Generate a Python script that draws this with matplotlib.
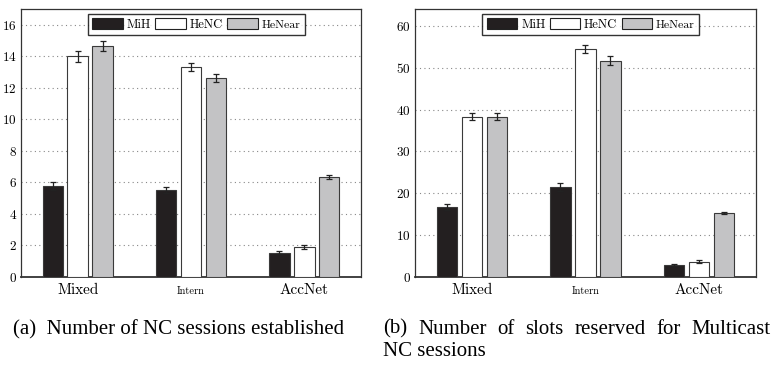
import matplotlib
matplotlib.use("Agg")
import matplotlib.pyplot as plt
import numpy as np

plt.rcParams['axes.formatter.use_mathtext'] = True

categorias = ["Mixed", "Intern", "AccNet"]
series = ["MiH", "HeNC", "HeNear"]

# (a) sessoes NC estabelecidas
sessoes_mih = [5.75, 5.5, 1.55]
sessoes_henc = [14.0, 13.3, 1.9]
sessoes_henear = [14.65, 12.6, 6.35]
sessoes_err_mih = [0.25, 0.2, 0.1]
sessoes_err_henc = [0.35, 0.25, 0.15]
sessoes_err_henear = [0.3, 0.25, 0.12]

# (b) slots reservados
slots_mih = [16.8, 21.5, 2.8]
slots_henc = [38.3, 54.4, 3.7]
slots_henear = [38.3, 51.7, 15.3]
slots_err_mih = [0.7, 0.9, 0.2]
slots_err_henc = [0.8, 1.0, 0.3]
slots_err_henear = [0.8, 1.0, 0.3]

cores = ["#231f20", "#ffffff", "#c3c3c5"]
cm = "cmr10"


def painel(ax, valores, erros, ylim, yticks):
    x = np.arange(len(categorias))
    largura = 0.18
    desloc = [-0.22, 0, 0.22]
    for i in range(3):
        ax.bar(x + desloc[i], valores[i], largura, color=cores[i],
               edgecolor="#3a3a3a", linewidth=0.8, zorder=3, label=series[i],
               yerr=erros[i], capsize=2.5,
               error_kw=dict(ecolor="#222222", elinewidth=0.9, capthick=0.9, zorder=4))
    ax.set_xlim(-0.5, 2.5)
    ax.set_ylim(*ylim)
    ax.set_yticks(yticks)
    ax.set_xticks(x)
    ax.set_xticklabels(categorias, family=cm, va="baseline")
    for lbl, fs in zip(ax.get_xticklabels(), [11, 7.5, 11]):
        lbl.set_fontsize(fs)
    for lbl in ax.get_yticklabels():
        lbl.set_family(cm)
        lbl.set_fontsize(9.5)
    ax.tick_params(length=0, pad=3)
    ax.tick_params(axis="x", pad=12)
    ax.yaxis.grid(True, linestyle=(0, (1, 3)), color="#888888", linewidth=0.8, zorder=0)
    for s in ax.spines.values():
        s.set_color("#333333")
        s.set_linewidth(0.9)
    ax.spines["bottom"].set_linewidth(1.3)
    leg = ax.legend(loc="upper center", ncol=3, frameon=True, fancybox=False,
                    bbox_to_anchor=(0.516, 0.983), handlelength=2.45, handleheight=0.95,
                    handletextpad=0.3, columnspacing=0.35, borderpad=0.35,
                    borderaxespad=0.0, prop=dict(family=cm, size=9))
    leg.get_frame().set_edgecolor("black")
    leg.get_frame().set_linewidth(1.0)
    leg.get_texts()[2].set_fontsize(8.5)
    for h in leg.legend_handles:
        h.set_edgecolor("#222222")
    return ax


fig = plt.figure(figsize=(7.73, 3.65), dpi=100)
ax1 = fig.add_axes([0.0272, 0.2411, 0.4398, 0.7342])
ax2 = fig.add_axes([0.5369, 0.2411, 0.4407, 0.7342])

painel(ax1, [sessoes_mih, sessoes_henc, sessoes_henear],
       [sessoes_err_mih, sessoes_err_henc, sessoes_err_henear], (0, 17), range(0, 17, 2))
painel(ax2, [slots_mih, slots_henc, slots_henear],
       [slots_err_mih, slots_err_henc, slots_err_henear], (0, 64), range(0, 61, 10))

fonte_leg = dict(family="Liberation Serif", size=15)
fig.text(13 / 773, 1 - 330 / 365, "(a)  Number of NC sessions established",
         ha="left", va="center", **fonte_leg)

# linha justificada da legenda (b)
palavras = ["(b)", "Number", "of", "slots", "reserved", "for", "Multicast"]
x0, x1 = 383 / 773, 771 / 773
y = 1 - 329 / 365
renderer = fig.canvas.get_renderer()
textos = [fig.text(0, y, p, ha="left", va="center", **fonte_leg) for p in palavras]
larguras = [t.get_window_extent(renderer).width / fig.bbox.width for t in textos]
espaco = (x1 - x0 - sum(larguras)) / (len(palavras) - 1)
pos = x0
for t, w in zip(textos, larguras):
    t.set_x(pos)
    pos += w + espaco
fig.text(x0, 1 - 352 / 365, "NC sessions", ha="left", va="center", **fonte_leg)

fig.savefig("out.png", dpi=100)
